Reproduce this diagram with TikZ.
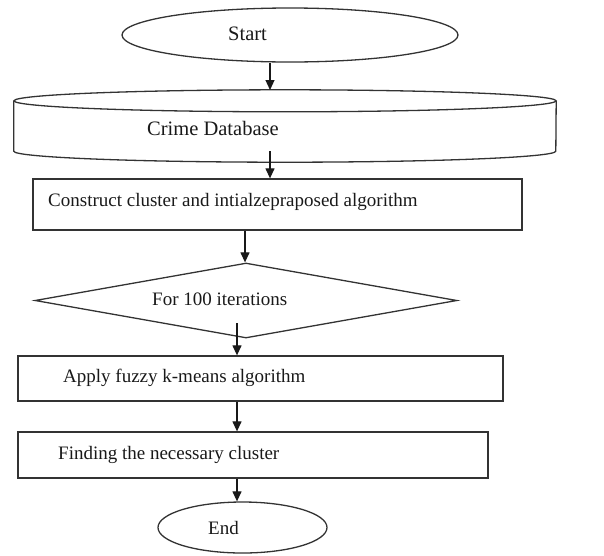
\documentclass[tikz,border=0pt]{standalone}
\usepackage{fontspec}
\setmainfont{Liberation Serif}
\usetikzlibrary{shapes.geometric,arrows.meta}
\begin{document}
\begin{tikzpicture}[x=1pt,y=-1pt,
  shapeline/.style={draw=black!80,line width=1.3pt},
  lbl/.style={font=\fontsize{19}{22}\selectfont, text=black!90, inner sep=0pt, anchor=west},
  biglbl/.style={lbl, font=\fontsize{20.5}{24}\selectfont},
  arr/.style={draw=black!90, line width=1.2pt, -{Triangle[length=10pt,width=9pt]}},
  procbox/.style={shapeline, rectangle, inner sep=0pt},
  oval/.style={shapeline, ellipse, inner sep=0pt}
]
\useasboundingbox (0,0) rectangle (604,555);

% column coordinates for connectors
\coordinate (c1) at (270,0);
\coordinate (c2) at (245,0);
\coordinate (c3) at (237,0);

% Start
\node[oval, minimum width=336pt, minimum height=54pt] (start) at (290,35) {};
\node[biglbl] (tstart) at (228,34) {Start};

% Crime Database (cylinder)
\node[inner sep=0pt, minimum width=542pt, minimum height=50pt] (db) at (285,126) {};
\draw[shapeline] (db.north) ellipse [x radius=271, y radius=11];
\draw[shapeline] (db.north west) -- (db.south west)
   arc[start angle=180, end angle=0, x radius=271, y radius=11] -- (db.north east);
\coordinate (dbtop) at (285,90);
\node[biglbl] (tdb) at (147,128) {Crime Database};

% Construct
\node[procbox, minimum width=489pt, minimum height=51pt] (construct) at (277.5,204.5) {};
\node[lbl] (tconstruct) at (48,202) {Construct cluster and intialzepraposed algorithm};

% Decision
\node[shapeline, diamond, aspect=5.6, minimum width=422pt, minimum height=75pt, inner sep=0pt] (iter) at (246,300.5) {};
\node[lbl] (titer) at (152,299) {For 100 iterations};
\coordinate (iterout) at (237,323);

% Apply
\node[procbox, minimum width=485pt, minimum height=45pt] (apply) at (260.5,378.5) {};
\node[lbl] (tapply) at (63,378) {Apply fuzzy k-means algorithm};

% Finding
\node[procbox, minimum width=470pt, minimum height=46pt] (finding) at (253,455) {};
\node[lbl] (tfinding) at (58,455) {Finding the necessary cluster};

% End
\node[oval, minimum width=169pt, minimum height=51pt] (end) at (242.5,527.5) {};
\node[lbl] (tend) at (208,528) {End};

% connectors
\draw[arr] (start.south -| c1) -- (dbtop -| c1);
\draw[arr] (db.south -| c1) -- (construct.north -| c1);
\draw[arr] (construct.south -| c2) -- (iter.north -| c2);
\draw[arr] (iterout) -- (apply.north -| c3);
\draw[arr] (apply.south -| c3) -- (finding.north -| c3);
\draw[arr] (finding.south -| c3) -- (end.north -| c3);
\end{tikzpicture}
\end{document}
